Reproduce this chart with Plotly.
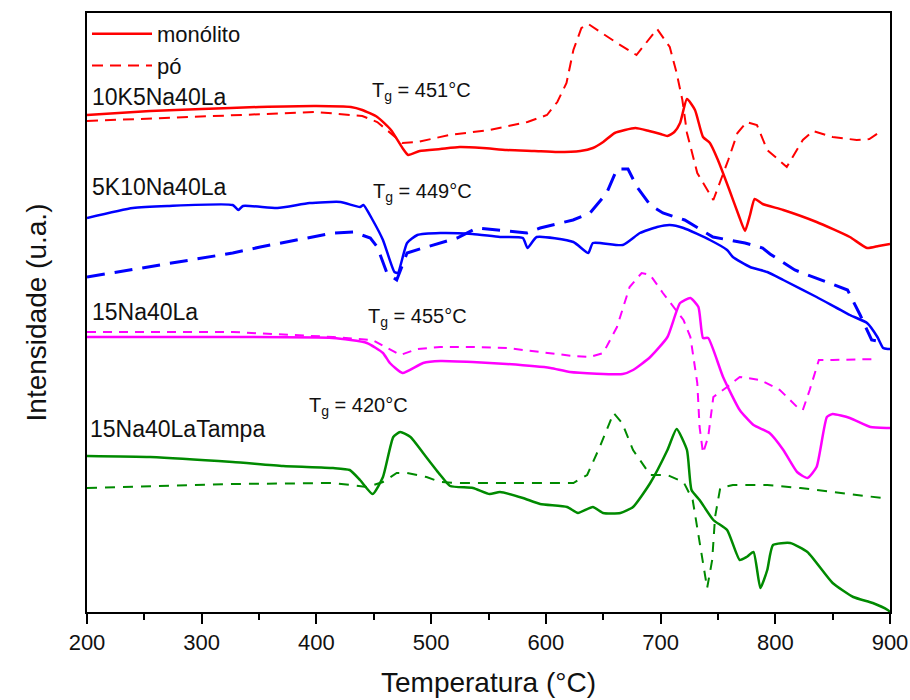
import plotly.graph_objects as go

# DTA curves: temperature (°C) and signal (arbitrary units, stacked offsets)

# 10K5Na40La
t_10k_mono = [200, 255, 300, 350, 400, 430, 440, 453, 465, 475, 480, 490, 508, 525, 545, 566, 590, 610, 630, 641, 650, 660, 678, 690, 700, 706, 712, 717, 723, 730, 737, 743, 750, 760, 768, 773.6, 778, 782, 789, 807, 836, 865, 880, 890, 900]
y_10k_mono = [497, 501, 503, 505, 506, 505, 502, 495, 482, 464, 457, 461, 463, 465, 464, 462, 461, 460, 461, 464, 470, 479, 484, 481, 478, 476, 480, 489, 513, 502, 475, 469, 452, 422, 397, 381, 397, 413, 408, 402, 390, 375, 364, 366, 368]
t_10k_po = [200, 327, 400, 440, 453, 475, 488, 516, 551, 584, 601, 610, 618, 624, 631, 637, 662, 679, 689, 697, 708, 714, 719, 723, 732, 746, 759, 767, 775, 784, 793, 810, 824, 833, 850, 871, 882, 891]
y_10k_po = [491, 497, 500, 496, 490, 469, 470, 477, 482, 490, 497, 510, 529, 562, 584, 588, 569, 557, 572, 583, 565, 539, 512, 479, 439, 412, 452, 479, 490, 487, 462, 445, 472, 481, 475, 472, 473, 480]

# 5K10Na40La
t_5k_mono = [200, 240, 270, 327, 332, 336, 366, 394, 421, 438, 441, 449, 458, 468, 471, 479, 488, 508, 536, 560, 580, 584, 592, 624, 637, 641, 667, 682, 697, 708, 720, 743, 758, 763, 778, 793, 807, 836, 865, 880, 889, 894, 898, 900]
y_5k_mono = [394, 404, 406, 407, 402, 406, 404, 409, 410, 405, 407, 392, 372, 340, 339, 369, 377, 379, 378, 375, 374, 364, 375, 370, 359, 369, 367, 379, 385, 387, 384, 372, 362, 355, 345, 340, 332, 315, 297, 289, 275, 264, 263, 263]
t_5k_po = [200, 327, 351, 414.5, 432, 447, 453, 461.5, 470, 479, 493, 522.6, 540, 583.6, 595, 623.7, 638.5, 653, 662, 671.6, 679.5, 691, 702, 721, 745.7, 773.6, 789, 795.4, 817, 841.6, 863, 874, 884, 888.7]
y_5k_po = [335, 359, 365, 379, 380, 374, 365, 339, 332, 359, 364, 374, 384, 379, 384, 392, 399, 419, 443, 443, 425, 407, 399, 392, 375, 369, 364, 358, 342, 331, 322, 297, 272, 271]

# 15Na40La
t_15_mono = [200, 327, 414, 444, 458, 464, 475, 493, 508, 536, 566, 604, 621, 667, 676, 691, 706, 717, 726, 733, 737, 741.5, 754.5, 769, 781, 795, 807, 819, 828, 836, 845, 850, 865, 883, 897.5, 900]
y_15_mono = [275, 275, 274, 269, 259, 249, 239, 249, 251, 250, 248, 244, 240, 238, 242, 255, 275, 309, 314, 305, 274, 274, 235, 202, 187, 179, 162, 140, 134, 145, 195, 198, 194, 185, 184, 184]
t_15_po = [200, 327, 414.5, 444, 449, 473, 488, 508, 536.5, 566, 595, 624, 638.5, 650, 662, 673, 683.5, 691, 702, 720, 726, 732, 734, 737, 741.5, 746, 758, 769, 787, 804, 819, 824, 830, 838, 850, 889]
y_15_po = [280, 280, 275, 272, 272, 257, 263, 265, 265, 264, 260, 256, 255, 259, 285, 325, 339, 337, 319, 292, 275, 229, 185, 159, 175, 215, 225, 235, 232, 222, 205, 202, 222, 252, 252, 253]

# 15Na40LaTampa
t_tampa_mono = [200, 255, 327, 371, 414.5, 429, 438, 449, 458, 467, 473, 482, 493, 508, 516.5, 536.5, 551, 560, 580, 595, 618.5, 628, 641, 650, 665, 676, 691, 706, 714, 723, 727, 734, 746, 758, 769, 775, 781, 787, 793, 798, 813, 828, 850, 868, 885, 898, 900]
y_tampa_mono = [156, 155, 150, 146, 144, 142, 132, 118, 135, 175, 180, 175, 159, 137, 126, 124, 118, 120, 114, 108, 105, 99, 105, 99, 99, 105, 129, 162, 183, 162, 122, 112, 92, 82, 52, 55, 60, 24, 42, 67, 69, 60, 29, 15, 9, 2, 0]
t_tampa_po = [200, 327, 414.5, 444, 458, 470, 479, 496, 508, 523, 595, 624, 636, 647, 659, 666.5, 676, 691, 706, 720, 728, 734, 740.6, 745, 747.5, 752, 763, 793, 822, 850, 893]
y_tampa_po = [124, 128, 129, 125, 130, 139, 139, 135, 130, 129, 129, 129, 137, 165, 199, 189, 162, 137, 137, 130, 112, 72, 24, 52, 95, 124, 127, 127, 124, 120, 114]

RED, BLUE, MAGENTA, GREEN = "#ff0000", "#0000ff", "#ff00ff", "#008a00"

series = [
    (t_10k_mono, y_10k_mono, RED, "solid", 2.5, "monólito", True),
    (t_10k_po, y_10k_po, RED, "11px,7px", 2, "pó", True),
    (t_5k_mono, y_5k_mono, BLUE, "solid", 2.5, "5K10Na40La", False),
    (t_5k_po, y_5k_po, BLUE, "18px,10px", 3, "5K10Na40La pó", False),
    (t_15_mono, y_15_mono, MAGENTA, "solid", 2.5, "15Na40La", False),
    (t_15_po, y_15_po, MAGENTA, "9px,7px", 2, "15Na40La pó", False),
    (t_tampa_mono, y_tampa_mono, GREEN, "solid", 2.5, "15Na40LaTampa", False),
    (t_tampa_po, y_tampa_po, GREEN, "10px,8px", 2, "15Na40LaTampa pó", False),
]

fig = go.Figure()
for t, y, color, dash, width, name, show in series:
    solid = dash == "solid"
    fig.add_trace(go.Scatter(
        x=t, y=y, mode="lines", name=name, showlegend=show,
        line=dict(color=color, dash=dash, width=width,
                  shape="spline" if solid else "linear", smoothing=0.5),
    ))

sample_labels = [("10K5Na40La", 203, 515), ("5K10Na40La", 203, 425),
                 ("15Na40La", 203, 300), ("15Na40LaTampa", 201, 183)]
for text, x, y in sample_labels:
    fig.add_annotation(x=x, y=y, text=text, showarrow=False, xanchor="left",
                       yanchor="middle", font=dict(size=23, color="#111"))

tg_labels = [("451", 447, 521), ("449", 448, 420), ("455", 443, 295), ("420", 392, 206)]
for val, x, y in tg_labels:
    fig.add_annotation(x=x, y=y, text=f"T<sub>g</sub> = {val}°C", showarrow=False,
                       xanchor="left", yanchor="middle", font=dict(size=20, color="#111"))

fig.update_layout(
    width=910, height=700,
    margin=dict(l=87, r=20, t=13, b=88),
    paper_bgcolor="white", plot_bgcolor="white",
    font=dict(family="Liberation Sans, Arial, sans-serif", color="#111"),
    legend=dict(x=0, y=1, xanchor="left", yanchor="top", bgcolor="rgba(0,0,0,0)",
                font=dict(size=22), itemwidth=60, tracegroupgap=0),
    xaxis=dict(
        range=[200, 900], showgrid=False, zeroline=False, automargin=False,
        showline=True, linecolor="black", linewidth=2, mirror=True,
        ticks="outside", ticklen=10, tickwidth=2, tickcolor="black",
        tickvals=[200, 300, 400, 500, 600, 700, 800, 900],
        minor=dict(ticks="outside", ticklen=6, tickwidth=2, tickcolor="black", dtick=50),
        tickfont=dict(size=22),
        title=dict(text="Temperatura (°C)", font=dict(size=28), standoff=18),
    ),
    yaxis=dict(
        range=[0, 599], showgrid=False, zeroline=False, showticklabels=False,
        automargin=False,
        showline=True, linecolor="black", linewidth=2, mirror=True, ticks="",
        title=dict(text="Intensidade (u.a.)", font=dict(size=28), standoff=30),
    ),
)

fig.write_html("out.html")
